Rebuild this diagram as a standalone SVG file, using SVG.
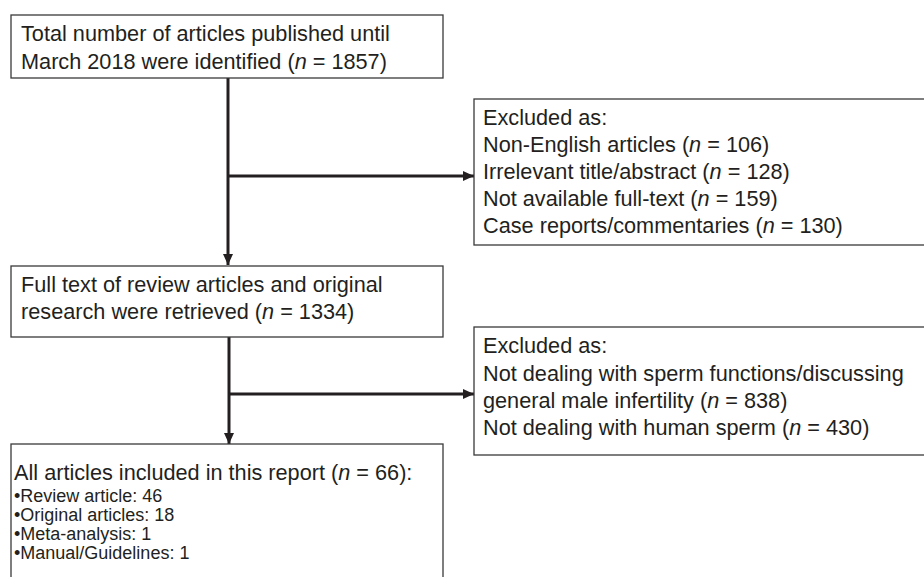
<svg xmlns="http://www.w3.org/2000/svg" width="924" height="577" viewBox="0 0 924 577">
<style>
.box{fill:#fff;stroke:#3a3a3a;stroke-width:1.3}
.t{font-family:"Liberation Sans",Arial,sans-serif;font-size:21.7px;fill:#231f20}
.s{font-family:"Liberation Sans",Arial,sans-serif;font-size:18px;fill:#231f20}
.c{stroke:#231f20;stroke-width:3;fill:none}
</style>
<defs>
<marker id="ah" markerWidth="11" markerHeight="10" refX="11" refY="5" orient="auto" markerUnits="userSpaceOnUse">
<path d="M0,0 L11,5 L0,10 Z" fill="#231f20"/>
</marker>
</defs>
<rect width="924" height="577" fill="#fff"/>
<g id="connectors">
<line class="c" x1="228" y1="78" x2="228" y2="265" marker-end="url(#ah)"/>
<line class="c" x1="228" y1="176" x2="474" y2="176" marker-end="url(#ah)"/>
<line class="c" x1="229" y1="337" x2="229" y2="444" marker-end="url(#ah)"/>
<line class="c" x1="229" y1="394" x2="474" y2="394" marker-end="url(#ah)"/>
</g>
<g id="node-identified">
<rect class="box" x="11" y="15" width="432" height="63"/>
<text class="t" x="21" y="41">Total number of articles published until</text>
<text class="t" x="21" y="69">March 2018 were identified (<tspan font-style="italic">n</tspan> = 1857)</text>
</g>
<g id="node-excluded1">
<rect class="box" x="474" y="99" width="460" height="146"/>
<text class="t" x="483" y="125">Excluded as:</text>
<text class="t" x="483" y="152">Non-English articles (<tspan font-style="italic">n</tspan> = 106)</text>
<text class="t" x="483" y="179">Irrelevant title/abstract (<tspan font-style="italic">n</tspan> = 128)</text>
<text class="t" x="483" y="206">Not available full-text (<tspan font-style="italic">n</tspan> = 159)</text>
<text class="t" x="483" y="233">Case reports/commentaries (<tspan font-style="italic">n</tspan> = 130)</text>
</g>
<g id="node-retrieved">
<rect class="box" x="11" y="266" width="432" height="71"/>
<text class="t" x="21" y="292">Full text of review articles and original</text>
<text class="t" x="21" y="319">research were retrieved (<tspan font-style="italic">n</tspan> = 1334)</text>
</g>
<g id="node-excluded2">
<rect class="box" x="474" y="327" width="460" height="128"/>
<text class="t" x="483" y="353">Excluded as:</text>
<text class="t" x="483" y="381">Not dealing with sperm functions/discussing</text>
<text class="t" x="483" y="408">general male infertility (<tspan font-style="italic">n</tspan> = 838)</text>
<text class="t" x="483" y="435">Not dealing with human sperm (<tspan font-style="italic">n</tspan> = 430)</text>
</g>
<g id="node-included">
<rect class="box" x="11" y="444" width="432" height="150"/>
<text class="t" x="14" y="480">All articles included in this report (<tspan font-style="italic">n</tspan> = 66):</text>
<text class="s" x="14" y="502">•Review article: 46</text>
<text class="s" x="14" y="521">•Original articles: 18</text>
<text class="s" x="14" y="540">•Meta-analysis: 1</text>
<text class="s" x="14" y="559">•Manual/Guidelines: 1</text>
</g>
</svg>
